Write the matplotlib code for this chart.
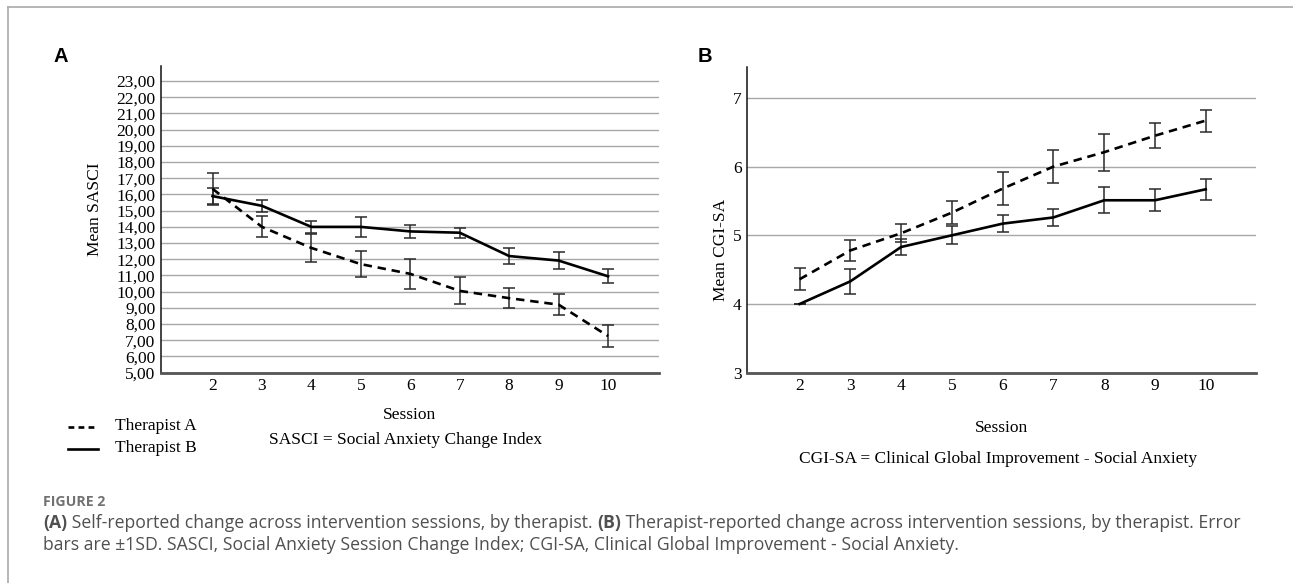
import matplotlib
matplotlib.use("Agg")
import matplotlib.pyplot as plt
from matplotlib.lines import Line2D
from matplotlib.ticker import FuncFormatter

# data
sessions = [2, 3, 4, 5, 6, 7, 8, 9, 10]

# panel A: Mean SASCI
sasci_a = [16.35, 14.0, 12.7, 11.7, 11.1, 10.05, 9.6, 9.2, 7.26]
sasci_a_sd = [1.0, 0.65, 0.85, 0.8, 0.93, 0.83, 0.6, 0.63, 0.66]
sasci_b = [15.9, 15.3, 14.0, 14.0, 13.72, 13.64, 12.2, 11.92, 10.95]
sasci_b_sd = [0.48, 0.38, 0.37, 0.63, 0.42, 0.32, 0.5, 0.51, 0.43]

# panel B: Mean CGI-SA
cgi_a = [4.36, 4.78, 5.03, 5.33, 5.68, 6.0, 6.21, 6.45, 6.67]
cgi_a_sd = [0.16, 0.15, 0.13, 0.17, 0.24, 0.24, 0.27, 0.18, 0.16]
cgi_b = [4.0, 4.33, 4.83, 5.0, 5.17, 5.26, 5.51, 5.51, 5.67]
cgi_b_sd = [0.0, 0.18, 0.12, 0.13, 0.12, 0.13, 0.19, 0.16, 0.15]

W, H = 1293, 583
SERIF = "Liberation Serif"
FS = 12.5


def fx(px):
    return px / W


def fy(py):
    return 1 - py / H


def style_axes(ax, yticks, ylim, xlim, fmt):
    ax.set_xlim(*xlim)
    ax.set_ylim(*ylim)
    ax.set_xticks(sessions)
    ax.set_yticks(yticks)
    ax.yaxis.set_major_formatter(FuncFormatter(fmt))
    for s in ("top", "right"):
        ax.spines[s].set_visible(False)
    ax.spines["left"].set_color("#111111")
    ax.spines["left"].set_linewidth(1.1)
    ax.spines["bottom"].set_color("#555555")
    ax.spines["bottom"].set_linewidth(2.0)
    ax.tick_params(length=0, labelsize=FS, pad=4)
    for lab in ax.get_xticklabels() + ax.get_yticklabels():
        lab.set_fontfamily(SERIF)
    ax.grid(axis="y", color="#a8a8a8", linewidth=1.0)
    ax.set_axisbelow(True)


def draw_series(ax, y, sd, dashed):
    ls = (0, (3.2, 2.2)) if dashed else "-"
    ax.errorbar(sessions, y, yerr=sd, fmt="none", ecolor="#2a2a2a",
                elinewidth=1.1, capsize=4.5, capthick=1.1, zorder=3)
    ax.plot(sessions, y, color="black", linewidth=1.9, linestyle=ls, zorder=4)


fig = plt.figure(figsize=(W / 100, H / 100), dpi=100)

# thin frame round the figure block
fig.add_artist(Line2D([fx(8), 1], [fy(7), fy(7)], color="#b0b0b0", lw=1.3))
fig.add_artist(Line2D([fx(8), fx(8)], [fy(7), 0], color="#b0b0b0", lw=1.3))

# ---- panel A
axA = fig.add_axes([fx(161), fy(372.7), fx(659) - fx(161), fy(66) - fy(372.7)])
style_axes(axA, range(5, 24), (5, 23.93), (0.958, 11.03),
           lambda v, p: ("%.2f" % v).replace(".", ","))
draw_series(axA, sasci_a, sasci_a_sd, True)
draw_series(axA, sasci_b, sasci_b_sd, False)
axA.set_ylabel("Mean SASCI", fontsize=FS, fontfamily=SERIF)
axA.yaxis.set_label_coords(-0.1165, 0.532)
axA.set_xlabel("Session", fontsize=FS, fontfamily=SERIF)
axA.xaxis.set_label_coords(0.498, -0.112)
axA.text(0.491, -0.218, "SASCI = Social Anxiety Change Index", transform=axA.transAxes,
         ha="center", va="center", fontsize=FS, fontfamily=SERIF)

# legend
legend_rows = [("Therapist A", (0, (2.2, 1.6))), ("Therapist B", "-")]
for i, (name, ls) in enumerate(legend_rows):
    yy = fy(426.5 + 22 * i)
    fig.add_artist(Line2D([fx(68), fx(98)], [yy, yy], color="black", lw=1.9, linestyle=ls))
    fig.text(fx(115), yy, name, ha="left", va="center", fontsize=FS, fontfamily=SERIF)

# ---- panel B
axB = fig.add_axes([fx(747), fy(372.7), fx(1256) - fx(747), fy(67) - fy(372.7)])
style_axes(axB, range(3, 8), (3, 7.45), (0.964, 10.99),
           lambda v, p: "%d" % v)
draw_series(axB, cgi_a, cgi_a_sd, True)
draw_series(axB, cgi_b, cgi_b_sd, False)
axB.set_ylabel("Mean CGI-SA", fontsize=FS, fontfamily=SERIF)
axB.yaxis.set_label_coords(-0.035, 0.40)
axB.set_xlabel("Session", fontsize=FS, fontfamily=SERIF)
axB.xaxis.set_label_coords(0.5, -0.155)
axB.text(0.494, -0.282, "CGI-SA = Clinical Global Improvement - Social Anxiety",
         transform=axB.transAxes, ha="center", va="center", fontsize=FS, fontfamily=SERIF)

# panel letters
fig.text(fx(53), fy(56), "A", fontsize=14.5, fontweight="bold", fontfamily="Liberation Sans",
         ha="left", va="center")
fig.text(fx(698), fy(56), "B", fontsize=14.5, fontweight="bold", fontfamily="Liberation Sans",
         ha="left", va="center")

# ---- caption
CAP = "Open Sans"
cap_col = "#505050"
fig.text(fx(43), fy(502.5), "FIGURE 2", fontsize=10.2, fontweight="bold", color="#727272",
         fontfamily=CAP, ha="left", va="center")

renderer = fig.canvas.get_renderer()


def text_run(x, y, parts, size):
    for txt, weight in parts:
        t = fig.text(x, y, txt, fontsize=size, fontweight=weight, color=cap_col,
                     fontfamily=CAP, ha="left", va="center")
        bb = t.get_window_extent(renderer)
        x += bb.width / W


line1 = [("(A)", "bold"),
         (" Self-reported change across intervention sessions, by therapist. ", "normal"),
         ("(B)", "bold"),
         (" Therapist-reported change across intervention sessions, by therapist. Error", "normal")]
line2 = [("bars are \u00b11SD. SASCI, Social Anxiety Session Change Index; CGI-SA, "
          "Clinical Global Improvement - Social Anxiety.", "normal")]
text_run(fx(43), fy(523), line1, 12.7)
text_run(fx(43), fy(545), line2, 12.7)

fig.savefig("out.png", dpi=100)
